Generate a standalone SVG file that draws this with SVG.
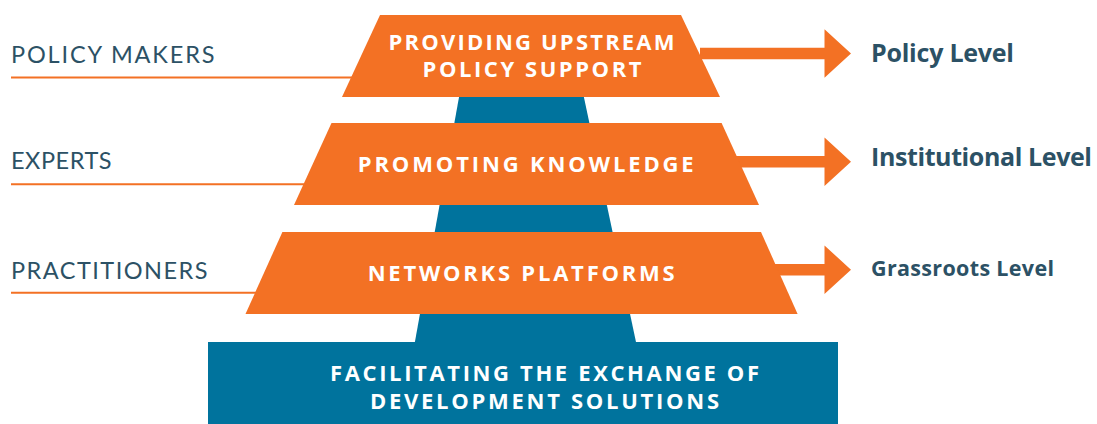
<svg xmlns="http://www.w3.org/2000/svg" width="1097" height="424" viewBox="0 0 1097 424">
<style>
.org{fill:#F37124}
.blue{fill:#00739D}
.line{stroke:#F37124;stroke-width:2;fill:none}
.lbl{font-family:Lato,"Liberation Sans",sans-serif;font-size:23.5px;fill:#2C5165;letter-spacing:1.5px}
.lvl{font-family:"Open Sans","Liberation Sans",sans-serif;font-weight:700;fill:#2C5165}
.tt{font-family:"Open Sans","Liberation Sans",sans-serif;font-weight:700;font-size:22px;fill:#FFFFFF;text-anchor:middle}
</style>
<defs>
<path id="arr" d="M0,-5.8 H124.5 V-24.2 L151,0 L124.5,24.2 V5.8 H0 Z"/>
</defs>
<g id="base-column">
<polygon class="blue" points="465.7,60 576,60 636,342 414.9,342"/>
</g>
<g id="connectors">
<line class="line" x1="11" y1="77.5" x2="352" y2="77.5"/>
<line class="line" x1="11" y1="184.3" x2="304" y2="184.3"/>
<line class="line" x1="11" y1="292.7" x2="256" y2="292.7"/>
<use href="#arr" class="org" x="700" y="53.5"/>
<use href="#arr" class="org" x="700" y="161.7"/>
<use href="#arr" class="org" x="700" y="269.7"/>
</g>
<g id="node-policy">
<polygon class="org" points="380,15 681,15 720,97 342,97"/>
<text class="tt" x="531.5" y="50" textLength="286" lengthAdjust="spacing">PROVIDING UPSTREAM</text>
<text class="tt" x="532" y="77.3" textLength="219" lengthAdjust="spacing">POLICY SUPPORT</text>
</g>
<g id="node-knowledge">
<polygon class="org" points="331.5,123 721.6,123 759,205 294,205"/>
<text class="tt" x="525.7" y="172.3" textLength="336" lengthAdjust="spacing">PROMOTING KNOWLEDGE</text>
</g>
<g id="node-networks">
<polygon class="org" points="282.4,232 761,232 797.6,314 245.5,314"/>
<text class="tt" x="521.2" y="280.7" textLength="307" lengthAdjust="spacing">NETWORKS PLATFORMS</text>
</g>
<g id="node-base">
<rect class="blue" x="208" y="342" width="630" height="82"/>
<text class="tt" x="544.5" y="381.2" textLength="429" lengthAdjust="spacing">FACILITATING THE EXCHANGE OF</text>
<text class="tt" x="544.5" y="408.6" textLength="349" lengthAdjust="spacing">DEVELOPMENT SOLUTIONS</text>
</g>
<g id="label-policy-makers">
<text class="lbl" x="11" y="62.7" textLength="205" lengthAdjust="spacing">POLICY MAKERS</text>
</g>
<g id="label-experts">
<text class="lbl" x="11" y="169.3" textLength="102" lengthAdjust="spacing">EXPERTS</text>
</g>
<g id="label-practitioners">
<text class="lbl" x="11" y="279.3" textLength="198" lengthAdjust="spacing">PRACTITIONERS</text>
</g>
<g id="level-policy">
<text class="lvl" x="871" y="61.7" font-size="25" textLength="143" lengthAdjust="spacing">Policy Level</text>
</g>
<g id="level-institutional">
<text class="lvl" x="871" y="165.7" font-size="25" textLength="221" lengthAdjust="spacing">Institutional Level</text>
</g>
<g id="level-grassroots">
<text class="lvl" x="871" y="275.7" font-size="21.5" textLength="183" lengthAdjust="spacing">Grassroots Level</text>
</g>
</svg>
